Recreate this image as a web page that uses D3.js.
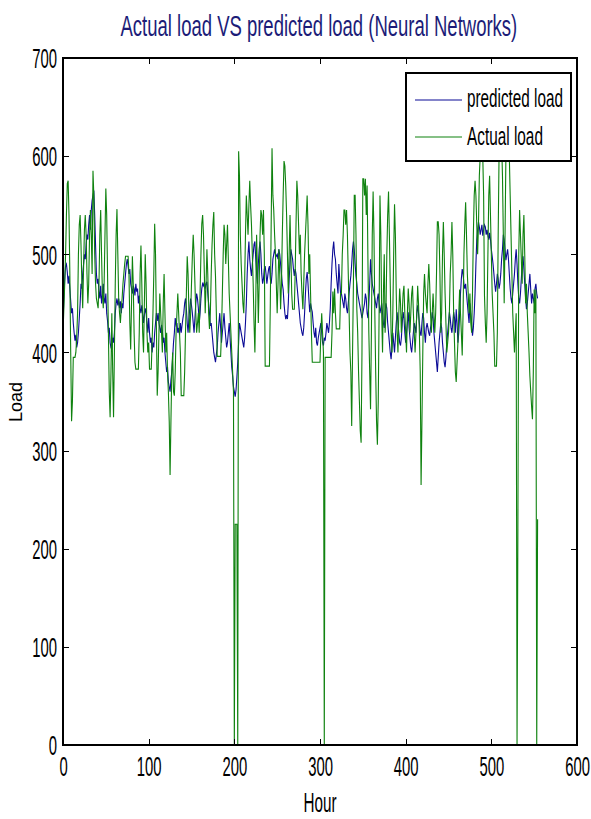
<!DOCTYPE html>
<html><head><meta charset="utf-8">
<script src="https://cdn.jsdelivr.net/npm/d3@7"></script>
<style>body{margin:0;background:#fff}svg{display:block}text{font-family:"Liberation Sans",Arial,sans-serif}</style>
</head><body><svg id="c" width="591" height="819"></svg>
<script>
const xTicks=[0,100,200,300,400,500,600];
const yTicks=[0,100,200,300,400,500,600,700];
const seriesNames=["predicted load","Actual load"];
const titleText="Actual load VS predicted load (Neural Networks)";
const xLabel="Hour", yLabel="Load";

const predicted=[
430,455,475,488,490,482,470,478,465,452,440,445,430,420,412,418,405,410,420,435,450,470,465,480,490,
500,495,510,520,515,530,540,525,545,555,560,565,540,510,480,470,475,462,455,468,450,458,470,455,450,
460,440,432,420,425,410,405,403,415,410,420,440,450,455,448,455,445,452,440,450,445,460,470,480,490,
495,488,480,485,470,465,460,468,465,458,470,462,465,450,458,445,440,448,440,430,438,445,440,430,420,
435,420,410,415,400,410,405,420,430,440,432,440,430,425,420,428,422,410,415,400,390,380,385,370,365,
360,372,380,395,410,420,435,428,430,420,425,418,430,420,428,435,440,450,455,445,430,420,435,445,455,
448,440,430,420,435,450,460,455,445,430,440,455,465,470,468,472,465,470,472,460,450,440,427,430,420,
410,400,395,390,398,405,420,430,440,425,410,420,430,440,425,415,405,410,420,430,415,400,385,376,365,
360,355,362,375,390,410,430,425,420,415,410,405,415,430,450,480,500,513,495,485,478,490,500,510,513,
495,480,470,490,505,513,500,480,470,475,485,488,480,470,478,485,488,475,470,480,495,500,505,500,498,
500,495,505,500,490,480,470,464,450,440,434,438,434,450,475,490,505,500,495,485,478,485,480,470,460,
450,440,430,425,420,417,425,440,460,475,482,470,455,441,450,445,441,430,420,415,425,410,407,415,420,
425,430,420,410,407,415,412,420,430,425,420,430,445,470,490,505,513,500,495,480,470,460,490,475,460,
460,455,450,445,460,455,445,440,450,460,470,478,490,505,513,505,490,478,470,460,455,450,445,440,435,
440,445,450,460,455,440,435,450,470,495,480,470,465,460,455,450,445,455,460,450,440,445,450,440,430,
425,440,450,445,430,420,410,400,393,405,420,410,400,415,430,441,430,420,410,407,415,430,441,435,420,
410,420,430,441,425,415,405,400,410,420,430,425,420,440,448,440,430,420,417,430,440,435,420,410,425,
430,425,420,417,425,430,441,435,420,410,400,390,380,395,410,420,430,425,410,400,390,385,395,410,420,
430,441,435,425,420,430,441,435,420,444,430,410,420,440,460,475,485,480,470,465,470,460,450,440,430,
450,440,430,417,425,440,460,490,515,525,533,528,520,525,530,519,525,530,528,520,525,519,515,522,515,
505,498,490,480,470,462,470,480,475,465,470,480,495,505,520,515,505,494,500,505,495,480,465,455,450,
460,470,480,495,505,490,470,455,450,460,475,490,498,485,470,455,444,450,460,470,480,464,450,460,455,450,465,470,460,455
];

const actual=[
420,445,470,500,540,572,575,540,480,400,330,350,395,395,395,400,415,440,500,530,540,510,470,445,485,
525,540,520,480,450,470,520,545,520,480,585,560,500,470,455,450,445,470,520,545,500,460,445,470,520,
567,540,480,420,360,334,380,440,380,334,400,470,520,546,500,455,440,430,445,455,470,480,490,498,498,
498,498,480,430,403,450,498,470,420,390,383,383,383,383,420,480,509,470,420,400,450,500,470,420,400,
410,383,383,383,410,440,480,531,500,430,356,380,420,460,440,420,400,450,480,440,400,420,380,360,330,
275,330,380,400,360,356,380,420,440,460,440,420,400,356,356,356,356,380,420,460,498,480,440,420,440,
470,498,520,500,470,440,420,430,440,420,460,500,531,540,520,480,440,470,505,480,440,424,440,480,510,
530,543,500,478,440,396,396,396,396,396,420,460,500,530,520,490,510,530,495,460,440,420,400,380,360,
0,225,225,225,0,605,580,520,490,470,450,440,470,520,560,540,520,550,575,550,530,500,470,430,400,
450,520,480,430,470,520,545,540,520,545,500,386,386,386,386,386,386,450,530,608,560,545,520,500,470,
440,470,505,480,444,470,520,560,595,590,570,540,500,460,500,540,500,460,444,444,444,480,530,575,560,
530,500,520,480,460,444,470,500,520,540,560,530,480,500,460,420,390,390,390,390,390,390,390,390,390,
390,420,440,420,400,0,395,395,395,395,395,395,395,395,420,462,440,465,440,424,424,424,424,424,460,
460,500,519,545,545,530,545,520,480,440,400,380,325,400,470,560,560,520,444,420,380,350,320,308,400,
577,577,560,577,540,570,490,420,380,342,420,520,564,520,440,380,330,306,350,440,560,520,440,400,460,
500,420,440,500,540,564,520,470,420,400,440,500,551,520,460,420,400,440,465,450,420,440,460,468,440,
420,400,440,465,450,420,440,460,468,440,420,400,420,440,468,450,420,380,265,330,400,460,480,460,450,
440,470,490,470,440,420,440,460,440,420,440,480,533,533,520,480,420,440,500,533,500,460,430,400,410,
420,440,480,500,533,500,440,410,380,370,390,410,440,464,440,420,397,440,500,530,553,520,480,460,440,
460,430,420,460,520,560,575,560,530,500,530,580,600,615,620,600,560,458,430,410,440,500,560,580,540,
500,460,440,420,386,386,386,420,520,600,615,620,615,580,520,450,520,600,615,620,615,600,560,520,480,
440,420,400,420,440,0,220,500,545,520,495,470,520,540,500,450,470,440,420,400,376,360,345,332,380,464,440,464,0,230
];

const L=63,R=577,T=58,B=745;
const FONT='"Liberation Sans",Arial,sans-serif';
const svg=d3.select("#c");
svg.append("rect").attr("width",591).attr("height",819).attr("fill","#fff");

const x=d3.scaleLinear().domain([0,600]).range([L,R]);
const y=d3.scaleLinear().domain([0,700]).range([B,T]);

const line=d3.line().x((d,i)=>x(i)).y(d=>y(d));
svg.append("path").datum(predicted).attr("d",line).attr("fill","none").attr("stroke","#0b0b96").attr("stroke-width",1.1);
svg.append("path").datum(actual).attr("d",line).attr("fill","none").attr("stroke","#0f820f").attr("stroke-width",1.1);

const SX=0.55;
const gb=svg.append("g").attr("transform",`translate(0,${B})`)
  .call(d3.axisBottom(x).tickValues(xTicks).tickSize(-6).tickSizeOuter(0).tickFormat(d3.format("d")));
gb.select(".domain").remove();
gb.selectAll("text").attr("y",31).attr("dy",0).attr("transform",`scale(${SX},1)`)
  .attr("font-size",27).attr("fill","#000").style("font-family",FONT);
const gl=svg.append("g").attr("transform",`translate(${L},0)`)
  .call(d3.axisLeft(y).tickValues(yTicks).tickSize(-6).tickSizeOuter(0).tickFormat(d3.format("d")));
gl.select(".domain").remove();
gl.selectAll("text").attr("x",-6/SX).attr("dy","0.36em").attr("transform",`scale(${SX},1)`)
  .attr("font-size",27).attr("fill","#000").style("font-family",FONT);
const gt=svg.append("g").attr("transform",`translate(0,${T})`)
  .call(d3.axisTop(x).tickValues(xTicks).tickSize(-6).tickSizeOuter(0).tickFormat(""));
gt.select(".domain").remove();
const gr=svg.append("g").attr("transform",`translate(${R},0)`)
  .call(d3.axisRight(y).tickValues(yTicks).tickSize(-6).tickSizeOuter(0).tickFormat(""));
gr.select(".domain").remove();
svg.selectAll(".tick line").attr("stroke","#000").attr("shape-rendering","crispEdges");

svg.append("rect").attr("x",L).attr("y",T).attr("width",R-L).attr("height",B-T)
  .attr("fill","none").attr("stroke","#000").attr("stroke-width",1.3).attr("shape-rendering","crispEdges");

// compressed text helper: fits natural width into target width via scale transform
function squeezed(g,str,size,tx,ty,targetW,anchor,fill){
  const grp=g.append("g");
  const t=grp.append("text").attr("font-size",size).attr("fill",fill||"#000").text(str);
  const w=t.node().getComputedTextLength();
  const s=targetW/w;
  const x0 = anchor==="middle" ? tx-targetW/2 : tx;
  grp.attr("transform",`translate(${x0},${ty}) scale(${s},1)`);
  return grp;
}

squeezed(svg,titleText,30,(L+R)/2-1,36,397,"middle","#1c1c78");
squeezed(svg,xLabel,28,(L+R)/2,812,33,"middle");
svg.append("text").attr("transform","translate(22,402) rotate(-90)").attr("text-anchor","middle")
  .attr("font-size",18).attr("fill","#000").text(yLabel);

const lg=svg.append("g");
lg.append("rect").attr("x",406).attr("y",73).attr("width",165).attr("height",88)
  .attr("fill","#fff").attr("stroke","#000").attr("stroke-width",1.3).attr("shape-rendering","crispEdges");
const legColors=["#0b0b96","#0f820f"], legY=[100,137], legBase=[107,145], legW=[96,76];
seriesNames.forEach((n,i)=>{
  lg.append("line").attr("x1",415).attr("x2",462).attr("y1",legY[i]).attr("y2",legY[i])
    .attr("stroke",legColors[i]).attr("stroke-width",1.2);
  squeezed(lg,n,25,467,legBase[i],legW[i],"start");
});
</script></body></html>
